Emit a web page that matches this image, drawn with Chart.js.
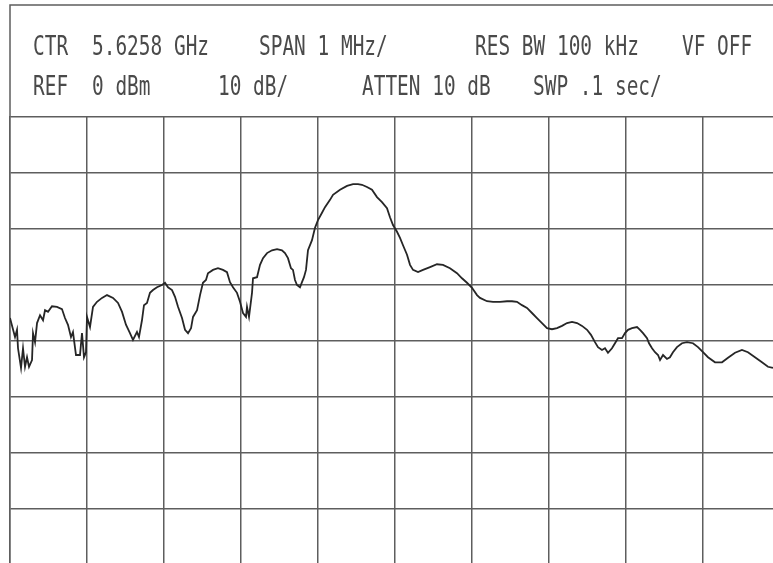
<!DOCTYPE html>
<html>
<head>
<meta charset="utf-8">
<script src="https://cdn.jsdelivr.net/npm/chart.js@4.4.1/dist/chart.umd.min.js"></script>
<style>
  html, body { margin: 0; padding: 0; background: #fff; overflow: hidden; }
  #wrap { position: absolute; left: 0; top: 0; width: 790px; height: 570px; }
</style>
</head>
<body>
<div id="wrap"><canvas id="tela" width="790" height="570"></canvas></div>
<script>
// --- DADOS DO TRAÇO (offset em MHz a partir do centro, nível em dBm) ---
const freqOffsetMHz = [
  -5.000,-4.935,-4.909,-4.896,-4.857,-4.831,-4.805,-4.779,-4.753,-4.714,
  -4.701,-4.675,-4.649,-4.610,-4.571,-4.545,-4.506,-4.455,-4.390,-4.325,
  -4.286,-4.247,-4.208,-4.182,-4.143,-4.091,-4.065,-4.039,-4.013,-4.000,
  -3.961,-3.922,-3.870,-3.805,-3.740,-3.662,-3.597,-3.545,-3.494,-3.442,
  -3.403,-3.351,-3.325,-3.286,-3.260,-3.221,-3.182,-3.143,-3.091,-3.026,
  -2.987,-2.948,-2.896,-2.857,-2.818,-2.766,-2.727,-2.688,-2.649,-2.623,
  -2.571,-2.532,-2.494,-2.455,-2.429,-2.364,-2.299,-2.234,-2.182,-2.143,
  -2.104,-2.052,-2.013,-1.974,-1.935,-1.922,-1.896,-1.857,-1.844,-1.792,
  -1.753,-1.714,-1.662,-1.597,-1.532,-1.468,-1.429,-1.390,-1.351,-1.325,
  -1.299,-1.273,-1.234,-1.208,-1.182,-1.156,-1.130,-1.078,-1.039,-1.000,
  -0.948,-0.909,-0.844,-0.805,-0.714,-0.623,-0.545,-0.481,-0.429,-0.364,
  -0.299,-0.234,-0.169,-0.104,-0.065,-0.026, 0.026, 0.065, 0.104, 0.156,
   0.195, 0.234, 0.299, 0.364, 0.455, 0.545, 0.623, 0.714, 0.805, 0.870,
   0.935, 1.000, 1.065, 1.104, 1.195, 1.273, 1.364, 1.455, 1.519, 1.584,
   1.649, 1.714, 1.779, 1.844, 1.909, 1.974, 2.039, 2.104, 2.169, 2.234,
   2.299, 2.364, 2.429, 2.494, 2.545, 2.597, 2.636, 2.688, 2.727, 2.766,
   2.818, 2.857, 2.896, 2.948, 2.987, 3.026, 3.078, 3.143, 3.182, 3.221,
   3.273, 3.299, 3.338, 3.377, 3.416, 3.442, 3.481, 3.532, 3.571, 3.610,
   3.662, 3.727, 3.792, 3.870, 3.935, 4.000, 4.065, 4.156, 4.247, 4.325,
   4.416, 4.506, 4.584, 4.675, 4.766, 4.844, 4.909
];

const levelDbm = [
  -55.9,-59.3,-58.0,-61.3,-64.8,-61.3,-64.6,-62.9,-64.6,-63.4,
  -58.6,-60.2,-56.8,-55.4,-56.3,-54.5,-54.8,-53.8,-53.9,-54.3,
  -55.9,-57.1,-59.3,-58.4,-62.5,-62.5,-58.6,-62.9,-62.0,-55.7,
  -57.5,-53.9,-53.0,-52.3,-51.8,-52.3,-53.2,-54.8,-57.1,-58.6,
  -59.8,-58.4,-59.3,-56.3,-53.6,-53.2,-51.4,-50.9,-50.4,-50.0,
  -49.6,-50.4,-50.9,-52.1,-53.9,-55.9,-58.0,-58.6,-57.7,-55.7,
  -54.5,-51.8,-49.6,-49.1,-47.9,-47.3,-47.0,-47.3,-47.7,-49.5,
  -50.4,-51.4,-53.0,-55.0,-55.7,-53.9,-55.7,-51.4,-48.8,-48.6,
  -46.4,-45.2,-44.3,-43.8,-43.6,-43.8,-44.3,-45.2,-47.0,-47.3,
  -49.1,-50.0,-50.4,-49.5,-48.6,-47.3,-43.8,-42.0,-39.8,-38.4,
  -37.1,-36.1,-34.8,-33.9,-33.0,-32.3,-32.0,-32.0,-32.1,-32.5,
  -33.0,-34.3,-35.2,-36.3,-37.9,-39.3,-40.5,-41.6,-42.9,-44.6,
  -46.4,-47.3,-47.7,-47.3,-46.8,-46.3,-46.4,-47.0,-47.9,-48.8,
  -49.6,-50.5,-51.8,-52.3,-52.9,-53.0,-53.0,-52.9,-52.9,-53.0,
  -53.6,-54.1,-55.0,-55.9,-56.8,-57.7,-57.9,-57.7,-57.3,-56.8,
  -56.6,-56.8,-57.3,-58.0,-58.9,-60.2,-61.1,-61.6,-61.3,-62.1,
  -61.3,-60.4,-59.5,-59.5,-58.6,-58.0,-57.7,-57.5,-58.0,-58.6,
  -59.5,-60.4,-61.3,-62.0,-62.5,-63.4,-62.5,-63.2,-62.9,-62.0,
  -61.1,-60.4,-60.2,-60.4,-61.1,-62.0,-62.9,-63.8,-63.8,-63.0,
  -62.1,-61.6,-62.0,-62.9,-63.8,-64.6,-64.8
];

// textos do cabeçalho do analisador
const headerLine1 = ['CTR', '5.6258 GHz', 'SPAN 1 MHz/', 'RES BW 100 kHz', 'VF OFF'];
const headerLine2 = ['REF', '0 dBm', '10 dB/', 'ATTEN 10 dB', 'SWP .1 sec/'];

// escala: 10 divisões de 1 MHz, 10 dB/div a partir de REF 0 dBm
const refLevel = 0;
const spanMin = -5, spanMax = 5;
const levelMin = -100, levelMax = -20;

// --- ESTILO ---
const gridColor = '#5e5e5e';
const traceColor = '#262626';
const textColor = '#4a4a4a';

// posições horizontais de cada bloco de texto
const header1X = [33, 92, 259, 475, 682];
const header2X = [33, 92, 218, 362, 533];

// ==================================
// Plugin: caixa e texto do cabeçalho
// ==================================
const cabecalhoPlugin = {
  id: 'cabecalho',
  beforeDraw(chart) {
    const { ctx, chartArea, scales } = chart;
    const topo = scales.y.getPixelForValue(refLevel);

    ctx.save();
    ctx.strokeStyle = gridColor;
    ctx.lineWidth = 1.5;
    ctx.beginPath();
    ctx.moveTo(chartArea.left, chartArea.top);
    ctx.lineTo(chartArea.left, topo);
    ctx.lineTo(chart.width, topo);
    ctx.stroke();

    ctx.fillStyle = textColor;
    ctx.font = '27px "DejaVu Sans Mono"';
    ctx.textBaseline = 'alphabetic';

    const escrever = (textos, posX, baseY) => {
      textos.forEach((t, i) => {
        ctx.save();
        ctx.translate(posX[i], baseY);
        ctx.scale(0.72, 1);
        ctx.fillText(t, 0, 0);
        ctx.restore();
      });
    };
    escrever(headerLine1, header1X, 55);
    escrever(headerLine2, header2X, 95);
    ctx.restore();
  }
};

// ==================================
// Gráfico
// ==================================
const pontos = freqOffsetMHz.map((f, i) => ({ x: f, y: levelDbm[i] }));

new Chart(document.getElementById('tela'), {
  type: 'line',
  data: {
    datasets: [{
      data: pontos,
      borderColor: traceColor,
      borderWidth: 1.8,
      pointRadius: 0,
      tension: 0,
      fill: false
    }]
  },
  options: {
    responsive: false,
    animation: false,
    layout: { padding: { left: 10, right: 10, top: 117, bottom: 5 } },
    plugins: {
      legend: { display: false },
      tooltip: { enabled: false }
    },
    scales: {
      x: {
        type: 'linear',
        min: spanMin,
        max: spanMax,
        ticks: { display: false, stepSize: 1 },
        grid: { color: gridColor, lineWidth: 1.5, drawTicks: false },
        border: { display: true, color: gridColor, width: 1.5 }
      },
      y: {
        min: levelMin,
        max: levelMax,
        ticks: { display: false, stepSize: 10 },
        grid: { color: gridColor, lineWidth: 1.5, drawTicks: false },
        border: { display: true, color: gridColor, width: 1.5 }
      }
    }
  },
  plugins: [cabecalhoPlugin]
});
</script>
</body>
</html>
